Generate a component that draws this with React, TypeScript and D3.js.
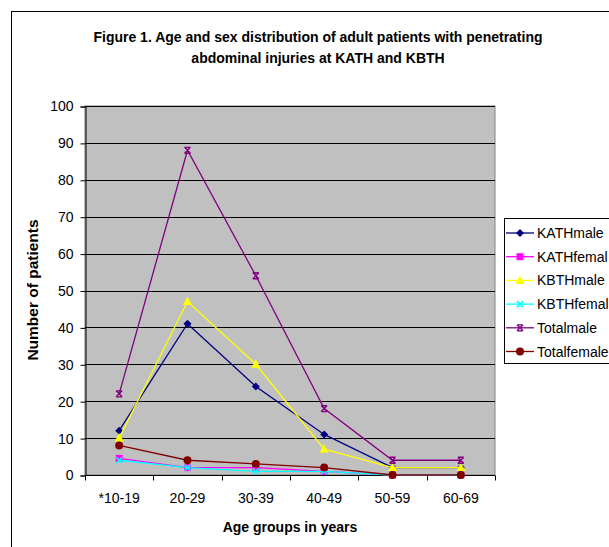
import { useRef, useEffect } from 'react';
import * as d3 from 'd3';

const categories = ['*10-19', '20-29', '30-39', '40-49', '50-59', '60-69'];
const seriesNames = ['KATHmale', 'KATHfemal', 'KBTHmale', 'KBTHfemal', 'Totalmale', 'Totalfemale'];
const kathMale = [12, 41, 24, 11, 2, 2];
const kathFemale = [4.5, 2, 2, 1, 0, 0];
const kbthMale = [10, 47, 30, 7, 2, 2];
const kbthFemale = [4, 2, 1, 1, 0, 0];
const totalMale = [22, 88, 54, 18, 4, 4];
const totalFemale = [8, 4, 3, 2, 0, 0];
const yTicks = [0, 10, 20, 30, 40, 50, 60, 70, 80, 90, 100];

const colors = ['#000080', '#FF00FF', '#FFFF00', '#00FFFF', '#800080', '#800000'];
const markers = ['diamond', 'square', 'triangle', 'x', 'star', 'circle'];

export default function App() {
  const svgRef = useRef<SVGSVGElement>(null);

  useEffect(() => {
    const svg = d3.select(svgRef.current);
    svg.selectAll('*').remove();
    const width = 609;
    const height = 547;
    const m = { left: 85, right: 495, top: 106, bottom: 475 };
    const font = 'Liberation Sans, Arial, sans-serif';
    const allSeries = [kathMale, kathFemale, kbthMale, kbthFemale, totalMale, totalFemale];

    svg.append('rect').attr('width', width).attr('height', height).attr('fill', '#fff');
    // outer frame
    svg.append('rect').attr('x', 11.5).attr('y', 11.5).attr('width', 620).attr('height', 560)
      .attr('fill', 'none').attr('stroke', '#000').attr('stroke-width', 1);

    const x = d3.scaleBand().domain(categories).range([m.left, m.right]);
    const y = d3.scaleLinear().domain([0, 100]).range([m.bottom, m.top]);

    svg.append('rect').attr('x', m.left).attr('y', m.top)
      .attr('width', m.right - m.left).attr('height', m.bottom - m.top)
      .attr('fill', '#C0C0C0').attr('stroke', '#808080');

    svg.append('g').selectAll('line').data(yTicks.filter(t => t > 0)).join('line')
      .attr('x1', m.left).attr('x2', m.right)
      .attr('y1', d => Math.round(y(d)) + 0.5).attr('y2', d => Math.round(y(d)) + 0.5)
      .attr('stroke', '#000');

    const yAxis = svg.append('g').attr('transform', `translate(${m.left + 0.5},0.5)`)
      .call(d3.axisLeft(y).tickValues(yTicks).tickSize(5).tickPadding(7));
    yAxis.select('.domain').attr('stroke', '#000');
    yAxis.selectAll('text').attr('font-family', font).attr('font-size', 14).attr('fill', '#000');

    const xAxis = svg.append('g').attr('transform', `translate(0,${m.bottom + 0.5})`)
      .call(d3.axisBottom(x).tickSize(0).tickPadding(18));
    xAxis.select('.domain').attr('stroke', '#000').attr('d', `M${m.left},0H${m.right}`);
    xAxis.selectAll('text').attr('font-family', font).attr('font-size', 14).attr('fill', '#000');
    xAxis.selectAll('line.sep').data([...categories.map(c => x(c)!), m.right]).join('line')
      .attr('class', 'sep')
      .attr('x1', d => Math.round(d) + 0.5).attr('x2', d => Math.round(d) + 0.5)
      .attr('y1', 0).attr('y2', 5).attr('stroke', '#000');

    const cx = (c: string) => x(c)! + x.bandwidth() / 2;

    const drawMarker = (g: any, kind: string, color: string, px: number, py: number) => {
      if (kind === 'diamond') {
        g.append('path').attr('d', `M${px},${py - 4}L${px + 4},${py}L${px},${py + 4}L${px - 4},${py}Z`).attr('fill', color);
      } else if (kind === 'square') {
        g.append('rect').attr('x', px - 3.5).attr('y', py - 3.5).attr('width', 7).attr('height', 7).attr('fill', color);
      } else if (kind === 'triangle') {
        g.append('path').attr('d', `M${px},${py - 5}L${px + 4.5},${py + 3.5}L${px - 4.5},${py + 3.5}Z`).attr('fill', color);
      } else if (kind === 'x') {
        g.append('path').attr('d', `M${px - 3},${py - 3}L${px + 3},${py + 3}M${px + 3},${py - 3}L${px - 3},${py + 3}`)
          .attr('stroke', color).attr('stroke-width', 1.5);
      } else if (kind === 'star') {
        g.append('path').attr('d', `M${px - 3},${py - 3}L${px + 3},${py + 3}M${px + 3},${py - 3}L${px - 3},${py + 3}M${px - 3},${py - 3}H${px + 3}M${px - 3},${py + 3}H${px + 3}`)
          .attr('stroke', color).attr('stroke-width', 1.3);
      } else {
        g.append('circle').attr('cx', px).attr('cy', py).attr('r', 4).attr('fill', color);
      }
    };

    const line = d3.line<number>().x((_, i) => cx(categories[i])).y(d => y(d));
    allSeries.forEach((data, si) => {
      const g = svg.append('g');
      g.append('path').attr('d', line(data)).attr('fill', 'none')
        .attr('stroke', colors[si]).attr('stroke-width', 1.3);
      data.forEach((d, i) => drawMarker(g, markers[si], colors[si], cx(categories[i]), y(d)));
    });

    // legend
    const lg = svg.append('g');
    lg.append('rect').attr('x', 504.5).attr('y', 218.5).attr('width', 120).attr('height', 145)
      .attr('fill', '#fff').attr('stroke', '#000');
    seriesNames.forEach((name, i) => {
      const ly = 233 + i * 23.7;
      lg.append('line').attr('x1', 506).attr('x2', 534).attr('y1', ly).attr('y2', ly)
        .attr('stroke', colors[i]).attr('stroke-width', 1.3);
      drawMarker(lg, markers[i], colors[i], 520, ly);
      lg.append('text').attr('x', 537).attr('y', ly + 5).text(name)
        .attr('font-family', font).attr('font-size', 14).attr('fill', '#000');
    });

    // titles
    svg.append('text').attr('x', 318).attr('y', 42).attr('text-anchor', 'middle')
      .attr('font-family', font).attr('font-size', 14).attr('font-weight', 'bold')
      .text('Figure 1. Age and sex distribution of adult patients with penetrating');
    svg.append('text').attr('x', 318).attr('y', 63).attr('text-anchor', 'middle')
      .attr('font-family', font).attr('font-size', 14).attr('font-weight', 'bold')
      .text('abdominal injuries at KATH and KBTH');
    svg.append('text').attr('x', 290).attr('y', 532).attr('text-anchor', 'middle')
      .attr('font-family', font).attr('font-size', 14).attr('font-weight', 'bold')
      .text('Age groups in years');
    svg.append('text').attr('transform', 'translate(38,290) rotate(-90)').attr('text-anchor', 'middle')
      .attr('font-family', font).attr('font-size', 15.5).attr('font-weight', 'bold')
      .text('Number of patients');
  }, []);

  return <svg ref={svgRef} width={609} height={547} style={{ position: 'absolute', left: 0, top: 0 }} />;
}
